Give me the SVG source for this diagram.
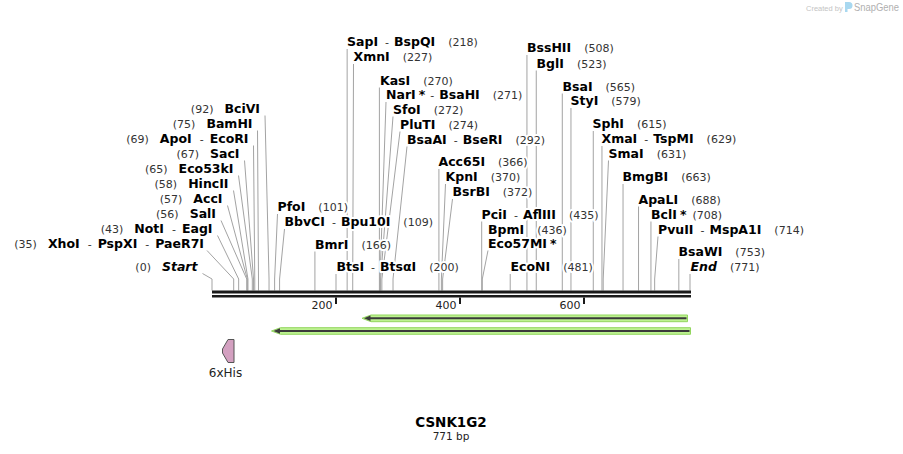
<svg xmlns="http://www.w3.org/2000/svg" width="903" height="454" viewBox="0 0 903 454">
<style>
.b{font-family:"DejaVu Sans",Verdana,sans-serif;font-weight:bold;font-size:12.5px;fill:#000}
.i{font-family:"DejaVu Sans",Verdana,sans-serif;font-weight:bold;font-style:italic;font-size:12.5px;fill:#000}
.n{font-family:"DejaVu Sans",Verdana,sans-serif;font-size:11px;fill:#333}
.L{stroke:#fff;stroke-width:4;stroke-linejoin:round;paint-order:stroke}
.ln{fill:none;stroke:#a3a3a3;stroke-width:1}
.tk{font-family:"DejaVu Sans",Verdana,sans-serif;font-size:11px;fill:#222}
.halo{fill:#bdf290;stroke:#93d65f;stroke-width:1}
.pl{stroke:#3a3a3a;stroke-width:2}
</style>
<rect width="903" height="454" fill="#fff"/>
<g id="watermark">
<text x="806" y="11" font-family="Liberation Sans,Arial,sans-serif" font-size="7.5" fill="#c4c4c4">Created by</text>
<path d="M845,2 h4 a3.5,3.5 0 0 1 0,7 h-1.5 v3 h-2.5 z" fill="#a8d8f0"/>
<text x="854" y="11" font-family="Liberation Sans,Arial,sans-serif" font-size="10.5" fill="#b0b0b0" textLength="45" lengthAdjust="spacingAndGlyphs">SnapGene</text>
</g>
<g id="connectors">
<polyline class="ln" points="265,115.5 269.04,279 269.04,290.5"/>
<polyline class="ln" points="257.5,130.5 258.5,279 258.5,290.5"/>
<polyline class="ln" points="253.5,145.5 254.78,279 254.78,290.5"/>
<polyline class="ln" points="244.5,160.5 253.54,279 253.54,290.5"/>
<polyline class="ln" points="238.5,175.5 252.3,279 252.3,290.5"/>
<polyline class="ln" points="233.5,190.5 247.96,279 247.96,290.5"/>
<polyline class="ln" points="227.5,205.5 247.34,279 247.34,290.5"/>
<polyline class="ln" points="221,220.5 246.72,279 246.72,290.5"/>
<polyline class="ln" points="217.5,235.5 238.66,279 238.66,290.5"/>
<polyline class="ln" points="207,250.5 233.7,279 233.7,290.5"/>
<polyline class="ln" points="202.5,273.5 212,279 212,290.5"/>
<polyline class="ln" points="347.15,49 347.15,290.5"/>
<polyline class="ln" points="353.5,64 352.73,279 352.73,290.5"/>
<polyline class="ln" points="379.4,87.5 379.4,290.5"/>
<polyline class="ln" points="386,102 380.01,279 380.01,290.5"/>
<polyline class="ln" points="393,116.5 380.63,279 380.63,290.5"/>
<polyline class="ln" points="400,131.5 381.87,279 381.87,290.5"/>
<polyline class="ln" points="407,146.5 393.03,279 393.03,290.5"/>
<polyline class="ln" points="438.91,169 438.91,290.5"/>
<polyline class="ln" points="445.5,184 441.39,279 441.39,290.5"/>
<polyline class="ln" points="452.5,199 442.63,279 442.63,290.5"/>
<polyline class="ln" points="277.5,214 274.62,279 274.62,290.5"/>
<polyline class="ln" points="284.5,229 279.58,279 279.58,290.5"/>
<polyline class="ln" points="314.92,251.5 314.92,290.5"/>
<polyline class="ln" points="336,274 336,290.5"/>
<polyline class="ln" points="481.69,221.5 481.69,290.5"/>
<polyline class="ln" points="488,250.5 482.31,279 482.31,290.5"/>
<polyline class="ln" points="510.21,274 510.21,290.5"/>
<polyline class="ln" points="526.95,55 526.95,290.5"/>
<polyline class="ln" points="536.25,70.5 536.25,290.5"/>
<polyline class="ln" points="562.29,93.5 562.29,290.5"/>
<polyline class="ln" points="570.96,108 570.96,290.5"/>
<polyline class="ln" points="593.28,131 593.28,290.5"/>
<polyline class="ln" points="601.96,146 601.96,290.5"/>
<polyline class="ln" points="608.5,160.5 603.2,279 603.2,290.5"/>
<polyline class="ln" points="623.04,184 623.04,290.5"/>
<polyline class="ln" points="638.54,206.5 638.54,290.5"/>
<polyline class="ln" points="650.94,221.5 650.94,290.5"/>
<polyline class="ln" points="658,236.5 654.66,279 654.66,290.5"/>
<polyline class="ln" points="678.84,259 678.84,290.5"/>
<polyline class="ln" points="690,274 690,290.5"/>
</g>
<g id="backbone">
<rect x="212" y="290.5" width="479" height="3" fill="#1a1a1a"/>
<rect x="212" y="295" width="479" height="2.5" fill="#1a1a1a"/>
<rect x="335" y="297.5" width="2" height="6.5" fill="#1a1a1a"/>
<rect x="459" y="297.5" width="2" height="6.5" fill="#1a1a1a"/>
<rect x="583" y="297.5" width="2" height="6.5" fill="#1a1a1a"/>
<text class="tk" x="332.5" y="308.5" text-anchor="end">200</text>
<text class="tk" x="456.5" y="308.5" text-anchor="end">400</text>
<text class="tk" x="580.5" y="308.5" text-anchor="end">600</text>
</g>
<g id="labels">
<g id="l-BciVI"><text class="L" x="260" y="113" text-anchor="end"><tspan class="n">(92)</tspan><tspan class="b" dx="11">BciVI</tspan></text></g>
<g id="l-BamHI"><text class="L" x="252.5" y="128" text-anchor="end"><tspan class="n">(75)</tspan><tspan class="b" dx="11">BamHI</tspan></text></g>
<g id="l-ApoI"><text class="L" x="248.5" y="143" text-anchor="end"><tspan class="n">(69)</tspan><tspan class="b" dx="11">ApoI</tspan><tspan class="n" dx="8">-</tspan><tspan class="b" dx="6">EcoRI</tspan></text></g>
<g id="l-SacI"><text class="L" x="239.5" y="158" text-anchor="end"><tspan class="n">(67)</tspan><tspan class="b" dx="11">SacI</tspan></text></g>
<g id="l-Eco53kI"><text class="L" x="233.5" y="173" text-anchor="end"><tspan class="n">(65)</tspan><tspan class="b" dx="11">Eco53kI</tspan></text></g>
<g id="l-HincII"><text class="L" x="228.5" y="188" text-anchor="end"><tspan class="n">(58)</tspan><tspan class="b" dx="11">HincII</tspan></text></g>
<g id="l-AccI"><text class="L" x="222.5" y="203" text-anchor="end"><tspan class="n">(57)</tspan><tspan class="b" dx="11">AccI</tspan></text></g>
<g id="l-SalI"><text class="L" x="216" y="218" text-anchor="end"><tspan class="n">(56)</tspan><tspan class="b" dx="11">SalI</tspan></text></g>
<g id="l-NotI"><text class="L" x="212.5" y="233" text-anchor="end"><tspan class="n">(43)</tspan><tspan class="b" dx="11">NotI</tspan><tspan class="n" dx="8">-</tspan><tspan class="b" dx="6">EagI</tspan></text></g>
<g id="l-XhoI"><text class="L" x="204" y="248" text-anchor="end"><tspan class="n">(35)</tspan><tspan class="b" dx="11">XhoI</tspan><tspan class="n" dx="8">-</tspan><tspan class="b" dx="6">PspXI</tspan><tspan class="n" dx="8">-</tspan><tspan class="b" dx="6">PaeR7I</tspan></text></g>
<g id="l-Start"><text class="L" x="197.5" y="271" text-anchor="end"><tspan class="n">(0)</tspan><tspan class="i" dx="11">Start</tspan></text></g>

<g id="l-SapI"><text class="L" x="347" y="46"><tspan class="b">SapI</tspan><tspan class="n" dx="7">-</tspan><tspan class="b" dx="5">BspQI</tspan><tspan class="n" dx="13">(218)</tspan></text></g>
<g id="l-XmnI"><text class="L" x="353.5" y="61"><tspan class="b">XmnI</tspan><tspan class="n" dx="13">(227)</tspan></text></g>
<g id="l-KasI"><text class="L" x="380" y="84.5"><tspan class="b">KasI</tspan><tspan class="n" dx="13">(270)</tspan></text></g>
<g id="l-NarI"><text class="L" x="386" y="99"><tspan class="b">NarI</tspan><tspan class="b" dx="3">*</tspan><tspan class="n" dx="5">-</tspan><tspan class="b" dx="5">BsaHI</tspan><tspan class="n" dx="13">(271)</tspan></text></g>
<g id="l-SfoI"><text class="L" x="393" y="113.5"><tspan class="b">SfoI</tspan><tspan class="n" dx="13">(272)</tspan></text></g>
<g id="l-PluTI"><text class="L" x="400" y="128.5"><tspan class="b">PluTI</tspan><tspan class="n" dx="13">(274)</tspan></text></g>
<g id="l-BsaAI"><text class="L" x="407" y="143.5"><tspan class="b">BsaAI</tspan><tspan class="n" dx="7">-</tspan><tspan class="b" dx="5">BseRI</tspan><tspan class="n" dx="13">(292)</tspan></text></g>
<g id="l-Acc65I"><text class="L" x="438.5" y="166"><tspan class="b">Acc65I</tspan><tspan class="n" dx="13">(366)</tspan></text></g>
<g id="l-KpnI"><text class="L" x="445.5" y="181"><tspan class="b">KpnI</tspan><tspan class="n" dx="13">(370)</tspan></text></g>
<g id="l-BsrBI"><text class="L" x="452.5" y="196"><tspan class="b">BsrBI</tspan><tspan class="n" dx="13">(372)</tspan></text></g>
<g id="l-PfoI"><text class="L" x="277.5" y="211"><tspan class="b">PfoI</tspan><tspan class="n" dx="13">(101)</tspan></text></g>
<g id="l-BbvCI"><text class="L" x="284.5" y="226"><tspan class="b">BbvCI</tspan><tspan class="n" dx="7">-</tspan><tspan class="b" dx="5">Bpu10I</tspan><tspan class="n" dx="13">(109)</tspan></text></g>
<g id="l-BmrI"><text class="L" x="315" y="248.5"><tspan class="b">BmrI</tspan><tspan class="n" dx="13">(166)</tspan></text></g>
<g id="l-BtsI"><text class="L" x="336.5" y="271"><tspan class="b">BtsI</tspan><tspan class="n" dx="7">-</tspan><tspan class="b" dx="5">BtsαI</tspan><tspan class="n" dx="13">(200)</tspan></text></g>
<g id="l-PciI"><text class="L" x="481.5" y="218.5"><tspan class="b">PciI</tspan><tspan class="n" dx="7">-</tspan><tspan class="b" dx="5">AflIII</tspan><tspan class="n" dx="13">(435)</tspan></text></g>
<g id="l-BpmI"><text class="L" x="488" y="233.5"><tspan class="b">BpmI</tspan><tspan class="n" dx="13">(436)</tspan></text><text class="L" x="488" y="247.5"><tspan class="b">Eco57MI</tspan><tspan class="b" dx="3">*</tspan></text></g>
<g id="l-EcoNI"><text class="L" x="510.5" y="271"><tspan class="b">EcoNI</tspan><tspan class="n" dx="13">(481)</tspan></text></g>
<g id="l-BssHII"><text class="L" x="527" y="52"><tspan class="b">BssHII</tspan><tspan class="n" dx="13">(508)</tspan></text></g>
<g id="l-BglI"><text class="L" x="536.5" y="67.5"><tspan class="b">BglI</tspan><tspan class="n" dx="13">(523)</tspan></text></g>
<g id="l-BsaI"><text class="L" x="562.5" y="90.5"><tspan class="b">BsaI</tspan><tspan class="n" dx="13">(565)</tspan></text></g>
<g id="l-StyI"><text class="L" x="570.5" y="105"><tspan class="b">StyI</tspan><tspan class="n" dx="13">(579)</tspan></text></g>
<g id="l-SphI"><text class="L" x="592.5" y="128"><tspan class="b">SphI</tspan><tspan class="n" dx="13">(615)</tspan></text></g>
<g id="l-XmaI"><text class="L" x="601.5" y="143"><tspan class="b">XmaI</tspan><tspan class="n" dx="7">-</tspan><tspan class="b" dx="5">TspMI</tspan><tspan class="n" dx="13">(629)</tspan></text></g>
<g id="l-SmaI"><text class="L" x="608.5" y="157.5"><tspan class="b">SmaI</tspan><tspan class="n" dx="13">(631)</tspan></text></g>
<g id="l-BmgBI"><text class="L" x="622.5" y="181"><tspan class="b">BmgBI</tspan><tspan class="n" dx="13">(663)</tspan></text></g>
<g id="l-ApaLI"><text class="L" x="638.5" y="203.5"><tspan class="b">ApaLI</tspan><tspan class="n" dx="13">(688)</tspan></text></g>
<g id="l-BclI"><text class="L" x="651" y="218.5"><tspan class="b">BclI</tspan><tspan class="b" dx="3">*</tspan><tspan class="n" dx="6">(708)</tspan></text></g>
<g id="l-PvuII"><text class="L" x="658" y="233.5"><tspan class="b">PvuII</tspan><tspan class="n" dx="7">-</tspan><tspan class="b" dx="5">MspA1I</tspan><tspan class="n" dx="13">(714)</tspan></text></g>
<g id="l-BsaWI"><text class="L" x="678.5" y="256"><tspan class="b">BsaWI</tspan><tspan class="n" dx="13">(753)</tspan></text></g>
<g id="l-End"><text class="L" x="690.5" y="271"><tspan class="i">End</tspan><tspan class="n" dx="13">(771)</tspan></text></g>
</g>
<g id="feature-primer1">
<polygon class="halo" points="687.5,315 371,315 362,318.3 371,321.7 687.5,321.7"/>
<line class="pl" x1="686.5" y1="318.3" x2="368" y2="318.3"/>
<polygon points="364,318.3 370.5,315.6 370.5,321" fill="#3a3a3a"/>
</g>
<g id="feature-primer2">
<polygon class="halo" points="690.5,327.7 280.5,327.7 271.5,331 280.5,334.3 690.5,334.3"/>
<line class="pl" x1="689.5" y1="331" x2="277" y2="331"/>
<polygon points="273.5,331 280,328.3 280,333.7" fill="#3a3a3a"/>
</g>
<g id="feature-6xHis">
<polygon points="234,339.5 228,339.5 222.5,349 222.5,353 228,362.5 234,362.5" fill="#d3a0c0" stroke="#555" stroke-width="1"/>
<text x="225.5" y="377" text-anchor="middle" font-family="DejaVu Sans,Verdana,sans-serif" font-size="12" fill="#222">6xHis</text>
</g>
<g id="title">
<text x="451" y="427" text-anchor="middle" font-family="DejaVu Sans,Verdana,sans-serif" font-weight="bold" font-size="13.5" fill="#000">CSNK1G2</text>
<text x="451" y="440" text-anchor="middle" font-family="DejaVu Sans,Verdana,sans-serif" font-size="10.5" fill="#222">771 bp</text>
</g>
</svg>
